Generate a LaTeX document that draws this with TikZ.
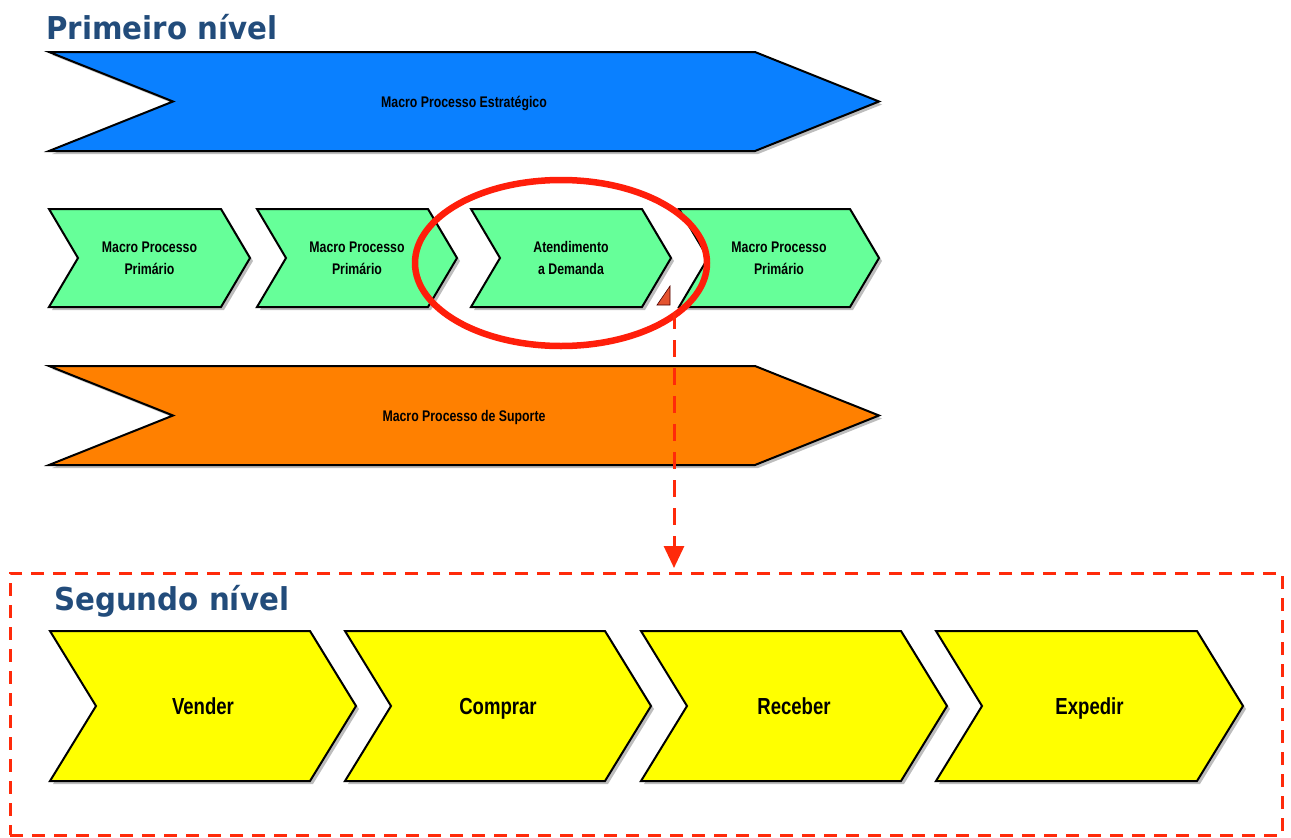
\documentclass[tikz,border=0pt]{standalone}
\usepackage{fontspec}
\usetikzlibrary{arrows.meta,shapes.geometric}
\newfontfamily\titlefont[FakeStretch=0.93]{DejaVu Sans}
\newfontfamily\labelfont[FakeStretch=0.8]{Liberation Sans}

\definecolor{stratblue}{HTML}{0A80FF}
\definecolor{primgreen}{HTML}{66FF99}
\definecolor{suporange}{HTML}{FF8000}
\definecolor{stepyellow}{HTML}{FFFF00}
\definecolor{titleblue}{HTML}{224C7B}
\definecolor{shadowgray}{HTML}{BDBDBD}
\definecolor{markred}{HTML}{FF2A0A}
\definecolor{ringred}{HTML}{FF1E0A}
\definecolor{flagred}{HTML}{E4532F}

\tikzset{
  chevline/.style={draw=black, line width=2pt, line join=miter},
  twolinelabel/.style={font=\labelfont\bfseries\fontsize{15.4}{22}\selectfont, align=center, inner sep=0pt},
  smalllabel/.style={twolinelabel, text height=11pt, text depth=0pt},
  biglabel/.style={font=\labelfont\bfseries\fontsize{23.2}{28}\selectfont, align=center, inner sep=0pt,
    text height=16.6pt, text depth=0pt},
  leveltitle/.style={font=\titlefont\bfseries\fontsize{31.5}{36}\selectfont, text=titleblue, anchor=base west, inner sep=0pt},
  zoomframe/.style={draw=markred, line width=3pt, dash pattern=on 13pt off 9pt, inner sep=0pt, outer sep=0pt},
  zoomarrow/.style={draw=markred, line width=3pt, dash pattern=on 17pt off 11pt,
    -{Triangle[width=20pt,length=22pt]}, shorten >=5pt},
}

% chevron: #1 fill, #2 left x, #3 top-right x, #4 top y, #5 bottom y, #6 point depth, #7 name, #8 text, #9 label style
\newcommand\chevshape[9]{%
  \fill[shadowgray, xshift=3pt, yshift=-3pt]
    (#2,#4) -- (#3,#4) -- ({#3+#6},{(#4+#5)/2}) -- (#3,#5) -- (#2,#5) -- ({#2+#6},{(#4+#5)/2}) -- cycle;
  \path[chevline, fill=#1]
    (#2,#4) -- (#3,#4) -- ({#3+#6},{(#4+#5)/2}) -- (#3,#5) -- (#2,#5) -- ({#2+#6},{(#4+#5)/2}) -- cycle;
  \node[#9] (#7) at ({(#2+#3+#6)/2},{(#4+#5)/2}) {#8};
}

\begin{document}
\begin{tikzpicture}[x=1pt, y=-1pt]
\useasboundingbox (0,0) rectangle (1291,838);

% first level
\node[leveltitle] (title1) at (46,39) {Primeiro nível};

\chevshape{stratblue}{49}{755}{52}{151}{124}{strat}{Macro Processo Estratégico}{smalllabel}

\chevshape{primgreen}{49}{221}{209}{307}{29}{prim1}{Macro Processo\\Primário}{twolinelabel}
\chevshape{primgreen}{257}{428}{209}{307}{29}{prim2}{Macro Processo\\Primário}{twolinelabel}
\chevshape{primgreen}{471}{642}{209}{307}{29}{demand}{Atendimento\\a Demanda}{twolinelabel}
\chevshape{primgreen}{679}{850}{209}{307}{29}{prim4}{Macro Processo\\Primário}{twolinelabel}

\chevshape{suporange}{49}{755}{366}{465}{124}{support}{Macro Processo de Suporte}{smalllabel}

% drill-down marker on the selected process
\path[fill=flagred, draw=black!70!red, line width=0.6pt] (657,305) -- (670,305) -- (670,286) -- cycle;
\coordinate (marker) at (674,312);

% highlight ring
\node[draw=ringred, line width=6.5pt, ellipse, minimum width=292pt, minimum height=166pt, inner sep=0pt]
  (ring) at (561,263) {};

% second level frame
\node[zoomframe, minimum width=1272pt, minimum height=262pt] (frame) at (646,704) {};
\draw[zoomarrow] (marker) -- (marker |- frame.north);

\node[leveltitle] (title2) at (54,610) {Segundo nível};

\chevshape{stepyellow}{50}{310}{631}{781}{46}{vender}{Vender}{biglabel}
\chevshape{stepyellow}{345}{605}{631}{781}{46}{comprar}{Comprar}{biglabel}
\chevshape{stepyellow}{641}{901}{631}{781}{46}{receber}{Receber}{biglabel}
\chevshape{stepyellow}{936}{1197}{631}{781}{46}{expedir}{Expedir}{biglabel}
\end{tikzpicture}
\end{document}
